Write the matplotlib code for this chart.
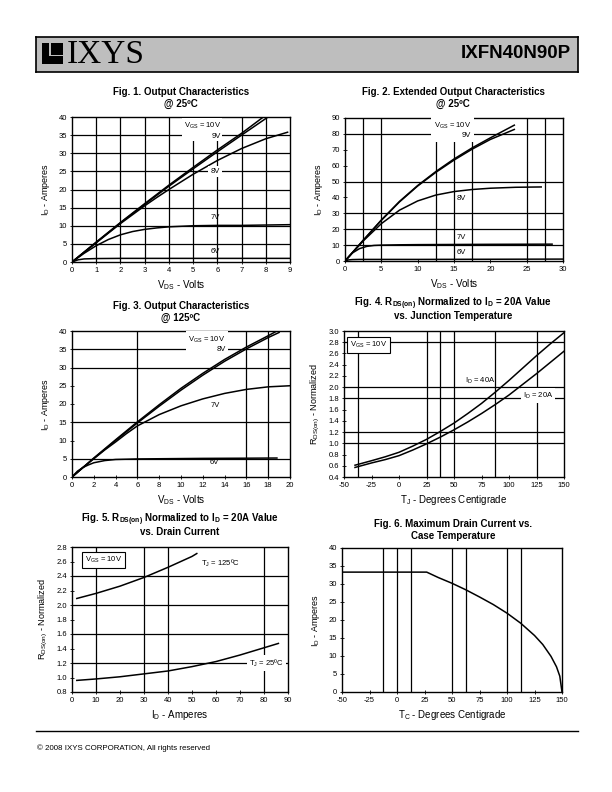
import matplotlib
matplotlib.use('Agg')
import matplotlib.pyplot as plt
from matplotlib.patches import Rectangle
from matplotlib.lines import Line2D

plt.rcParams['font.family'] = ['Liberation Sans', 'DejaVu Sans']
plt.rcParams['mathtext.default'] = 'regular'
plt.rcParams['axes.unicode_minus'] = False

# ---- data ----
# Fig 1: output characteristics @ 25C
f1_10v_x = [0, 1, 2, 3, 4, 5, 6, 7, 7.9]
f1_10v_y = [0, 5.5, 10.9, 16.1, 21.2, 26.1, 30.9, 35.5, 40]
f1_9v_x = [0, 1, 2, 3, 4, 5, 6, 7, 8.05]
f1_9v_y = [0, 5.4, 10.8, 15.9, 20.9, 25.7, 30.4, 35.0, 39.8]
f1_8v_x = [0, 1, 2, 3, 3.5, 4, 5, 6, 7, 8, 8.9]
f1_8v_y = [0, 5.3, 10.6, 15.5, 17.8, 20.0, 24.2, 28.0, 31.3, 34.0, 35.8]
f1_7v_x = [0, 0.5, 1, 1.5, 2, 2.5, 3, 3.5, 4, 5, 6, 7, 8, 9]
f1_7v_y = [0, 2.4, 4.5, 6.2, 7.5, 8.4, 9.0, 9.4, 9.7, 10.0, 10.1, 10.1, 10.2, 10.3]
f1_6v_x = [0, 0.25, 0.5, 1, 2, 4, 6, 9]
f1_6v_y = [0, 0.6, 0.85, 0.95, 1.0, 1.0, 1.0, 1.0]

# Fig 2: extended output characteristics @ 25C
f2_x = [0, 2.5, 5, 7.5, 10, 12.5, 15, 17.5, 20, 23.3]
f2_10v_y = [0, 13, 25.8, 37.5, 47.5, 56.3, 64.2, 71.2, 77.5, 85.5]
f2_9v_y = [0, 13, 25.6, 37.2, 47.2, 55.8, 63.5, 70.4, 76.5, 82.8]
f2_8v_x = [0, 2.5, 5, 7.5, 10, 12.5, 15, 17.5, 20, 23.5, 27]
f2_8v_y = [0, 12.6, 23.5, 32.0, 37.8, 41.5, 43.7, 45.0, 45.8, 46.4, 46.6]
f2_7v_x = [0, 1, 2, 3, 4, 5, 7.5, 10, 15, 20, 28.5]
f2_7v_y = [0, 5.0, 7.8, 9.2, 9.8, 10.0, 10.2, 10.3, 10.4, 10.5, 10.6]
f2_6v_x = [0, 0.5, 1, 2, 5, 10, 20, 30]
f2_6v_y = [0, 0.7, 0.9, 1.0, 1.0, 1.0, 1.1, 1.2]

# Fig 3: output characteristics @ 125C
f3_10v_x = [0, 2, 4, 6, 8, 10, 12, 14, 16, 18, 18.8]
f3_10v_y = [0, 5.2, 10.2, 15.1, 19.8, 24.3, 28.4, 32.2, 35.6, 38.7, 40]
f3_8v_x = [0, 2, 4, 6, 8, 10, 12, 14, 16, 18, 19]
f3_8v_y = [0, 5.1, 10.0, 14.8, 19.4, 23.8, 27.9, 31.7, 35.1, 38.2, 39.6]
f3_7v_x = [0, 1, 2, 3, 4, 5, 6, 8, 10, 12, 14, 16, 18, 20]
f3_7v_y = [0, 2.6, 5.0, 7.4, 9.6, 11.9, 14.0, 17.1, 19.5, 21.4, 22.9, 24.0, 24.7, 25.0]
f3_6v_x = [0, 0.5, 1, 1.5, 2, 3, 4, 6, 8, 12, 16, 18.8]
f3_6v_y = [0, 1.6, 2.6, 3.3, 3.9, 4.5, 4.8, 4.95, 5.0, 5.1, 5.15, 5.2]

# Fig 4: Rds(on) normalized vs junction temperature
tj = [-40, -25, -12.5, 0, 12.5, 25, 37.5, 50, 62.5, 75, 87.5, 100, 112.5, 125, 137.5, 150]
r_40a = [0.61, 0.69, 0.76, 0.84, 0.95, 1.07, 1.21, 1.36, 1.53, 1.71, 1.91, 2.12, 2.34, 2.56, 2.77, 2.97]
r_20a = [0.57, 0.65, 0.71, 0.78, 0.88, 0.99, 1.11, 1.24, 1.38, 1.53, 1.69, 1.86, 2.05, 2.24, 2.44, 2.64]

# Fig 5: Rds(on) normalized vs drain current
id_125 = [2, 10, 20, 30, 40, 50, 52]
r_125 = [2.09, 2.16, 2.26, 2.38, 2.52, 2.67, 2.71]
id_25 = [2, 10, 20, 30, 40, 50, 60, 70, 80, 86]
r_25 = [0.96, 0.98, 1.01, 1.05, 1.09, 1.15, 1.22, 1.31, 1.41, 1.47]

# Fig 6: max drain current vs case temperature
tc = [-50, 27, 37.5, 50, 62.5, 75, 87.5, 100, 112.5, 125, 132.5, 140, 145, 148, 150]
id_max = [33.3, 33.3, 31.8, 30.2, 28.4, 26.4, 24.3, 21.9, 19.1, 15.7, 13.2, 9.9, 7.0, 4.4, 0]

W, H = 612, 792
fig = plt.figure(figsize=(W/100, H/100), dpi=100)

def make_ax(l, t, r, b):
    return fig.add_axes([l/W, 1-b/H, (r-l)/W, (b-t)/H])

def style(ax, xlim, ylim, xticks, yticks, xlabel, ylabel, vgrid, hgrid, yfmt=None):
    ax.set_xlim(xlim)
    ax.set_ylim(ylim)
    ax.set_xticks(xticks)
    ax.set_yticks(yticks)
    if yfmt:
        ax.set_yticklabels([yfmt % v for v in yticks])
    ax.tick_params(labelsize=5.5, direction='inout', length=3, width=0.6, pad=2)
    ax.set_xlabel(xlabel, fontsize=7, labelpad=3)
    ax.set_ylabel(ylabel, fontsize=6.5, labelpad=5)
    for s in ax.spines.values():
        s.set_linewidth(1.0)
    for v in vgrid:
        ax.axvline(v, color='black', lw=0.9, zorder=1)
    for h in hgrid:
        ax.axhline(h, color='black', lw=0.9, zorder=1)

def curve(ax, x, y):
    ax.plot(x, y, color='black', lw=1.1, zorder=3)

def lbl(ax, x, y, s, box=False, **kw):
    bb = dict(facecolor='white', edgecolor='none', pad=1.5) if box else None
    ax.text(x, y, s, fontsize=5.5, ha='center', va='center', bbox=bb, zorder=4, **kw)

def title(cx, y1, l1, l2):
    fig.text(cx/W, 1-y1/H, l1, fontsize=7, weight='bold', ha='center', va='center')
    fig.text(cx/W, 1-(y1+12)/H, l2, fontsize=7, weight='bold', ha='center', va='center')

# ---- header ----
hax = fig.add_axes([36/W, 1-72/H, 542/W, 35/H])
hax.set_facecolor('#bebebe')
hax.set_xticks([])
hax.set_yticks([])
for s in hax.spines.values():
    s.set_linewidth(1.2)
hax.set_xlim(0, 542)
hax.set_ylim(35, 0)
hax.add_patch(Rectangle((6, 6), 21, 21, facecolor='black', edgecolor='none'))
hax.add_patch(Rectangle((13, 6), 1.8, 13, facecolor='#bebebe', edgecolor='none'))
hax.add_patch(Rectangle((13, 17.5), 14, 1.8, facecolor='#bebebe', edgecolor='none'))
hax.text(31, 17.5, 'IXYS', fontsize=24, family='Liberation Serif', va='center', ha='left')
hax.text(535, 17, 'IXFN40N90P', fontsize=13.5, weight='bold', va='center', ha='right')

# ---- Fig 1 ----
ax1 = make_ax(72, 117, 290, 262)
style(ax1, (0, 9), (0, 40), range(0, 10), range(0, 41, 5),
      'V$_{DS}$ - Volts', 'I$_D$ - Amperes', range(1, 9), range(5, 40, 5))
for x, y in [(f1_10v_x, f1_10v_y), (f1_9v_x, f1_9v_y), (f1_8v_x, f1_8v_y),
             (f1_7v_x, f1_7v_y), (f1_6v_x, f1_6v_y)]:
    curve(ax1, x, y)
ax1.text(6.15, 36.3, 'V$_{GS}$ = 10V\n9V', fontsize=5.5, ha='right', va='center',
         multialignment='right', linespacing=1.3,
         bbox=dict(facecolor='white', edgecolor='none', pad=1), zorder=4)
lbl(ax1, 5.9, 25, '8V', box=True)
lbl(ax1, 5.9, 12.3, '7V')
lbl(ax1, 5.9, 3.0, '6V')
title(181, 92, 'Fig. 1. Output Characteristics', '@ 25ºC')

# ---- Fig 2 ----
ax2 = make_ax(345, 118, 563, 261)
style(ax2, (0, 30), (0, 90), range(0, 31, 5), range(0, 91, 10),
      'V$_{DS}$ - Volts', 'I$_D$ - Amperes', [2.5, 5, 12.5, 15, 17.5, 25, 27.5],
      [10, 20, 30, 50, 80])
curve(ax2, f2_x, f2_10v_y)
curve(ax2, f2_x, f2_9v_y)
curve(ax2, f2_8v_x, f2_8v_y)
curve(ax2, f2_7v_x, f2_7v_y)
curve(ax2, f2_6v_x, f2_6v_y)
ax2.text(17.4, 82.5, 'V$_{GS}$ = 10V\n9V', fontsize=5.5, ha='right', va='center',
         multialignment='right', linespacing=1.3,
         bbox=dict(facecolor='white', edgecolor='none', pad=2), zorder=4)
lbl(ax2, 16, 39.5, '8V')
lbl(ax2, 16, 14.8, '7V')
lbl(ax2, 16, 5.3, '6V')
title(453, 92, 'Fig. 2. Extended Output Characteristics', '@ 25ºC')

# ---- Fig 3 ----
ax3 = make_ax(72, 331, 290, 477)
style(ax3, (0, 20), (0, 40), range(0, 21, 2), range(0, 41, 5),
      'V$_{DS}$ - Volts', 'I$_D$ - Amperes', [6, 16, 18], [5, 15, 30, 35])
for x, y in [(f3_10v_x, f3_10v_y), (f3_8v_x, f3_8v_y), (f3_7v_x, f3_7v_y), (f3_6v_x, f3_6v_y)]:
    curve(ax3, x, y)
ax3.text(14.1, 36.4, 'V$_{GS}$ = 10V\n8V', fontsize=5.5, ha='right', va='center',
         multialignment='right', linespacing=1.3,
         bbox=dict(facecolor='white', edgecolor='none', pad=2), zorder=4)
lbl(ax3, 13.1, 19.6, '7V')
lbl(ax3, 13.1, 4.0, '6V')
title(181, 306, 'Fig. 3. Output Characteristics', '@ 125ºC')

# ---- Fig 4 ----
ax4 = make_ax(344, 331, 564, 477)
yt4 = [0.4 + 0.2*i for i in range(14)]
style(ax4, (-50, 150), (0.4, 3.0), range(-50, 151, 25), yt4,
      'T$_J$ - Degrees Centigrade', 'R$_{DS(on)}$ - Normalized',
      [-37.5, 25, 37.5, 50, 87.5, 125], [1.0, 1.2, 1.8, 2.0, 2.8], yfmt='%.1f')
curve(ax4, tj, r_40a)
curve(ax4, tj, r_20a)
ax4.text(-27.5, 2.75, 'V$_{GS}$ = 10V', fontsize=5.5, ha='center', va='center',
         bbox=dict(facecolor='white', edgecolor='black', lw=0.8, pad=2), zorder=4)
lbl(ax4, 74, 2.11, 'I$_D$ = 40A')
lbl(ax4, 126.5, 1.85, 'I$_D$ = 20A', box=True)
title(453, 304, 'Fig. 4. R$_{DS(on)}$ Normalized to I$_D$ = 20A Value',
      'vs. Junction Temperature')

# ---- Fig 5 ----
ax5 = make_ax(72, 547, 288, 692)
yt5 = [0.8 + 0.2*i for i in range(11)]
style(ax5, (0, 90), (0.8, 2.8), range(0, 91, 10), yt5,
      'I$_D$ - Amperes', 'R$_{DS(on)}$ - Normalized', [10, 30, 40, 80],
      [1.2, 1.6, 2.0, 2.4], yfmt='%.1f')
curve(ax5, id_125, r_125)
curve(ax5, id_25, r_25)
ax5.text(13, 2.62, 'V$_{GS}$ = 10V', fontsize=5.5, ha='center', va='center',
         bbox=dict(facecolor='white', edgecolor='black', lw=0.8, pad=2), zorder=4)
lbl(ax5, 62, 2.57, 'T$_J$ = 125ºC')
lbl(ax5, 81, 1.2, 'T$_J$ = 25ºC', box=True)
title(180, 520, 'Fig. 5. R$_{DS(on)}$ Normalized to I$_D$ = 20A Value',
      'vs. Drain Current')

# ---- Fig 6 ----
ax6 = make_ax(342, 548, 562, 692)
style(ax6, (-50, 150), (0, 40), range(-50, 151, 25), range(0, 41, 5),
      'T$_C$ - Degrees Centigrade', 'I$_D$ - Amperes',
      [-12.5, 0, 12.5, 50, 62.5, 100, 112.5], [])
curve(ax6, tc, id_max)
title(453, 524, 'Fig. 6. Maximum Drain Current vs.', 'Case Temperature')

# ---- footer ----
fig.add_artist(Line2D([36/W, 578/W], [1-731/H, 1-731/H], color='black', lw=1.0))
fig.text(37/W, 1-748/H, '© 2008 IXYS CORPORATION, All rights reserved',
         fontsize=5.7, ha='left', va='center')

fig.savefig('out.png', dpi=100, facecolor='white')
